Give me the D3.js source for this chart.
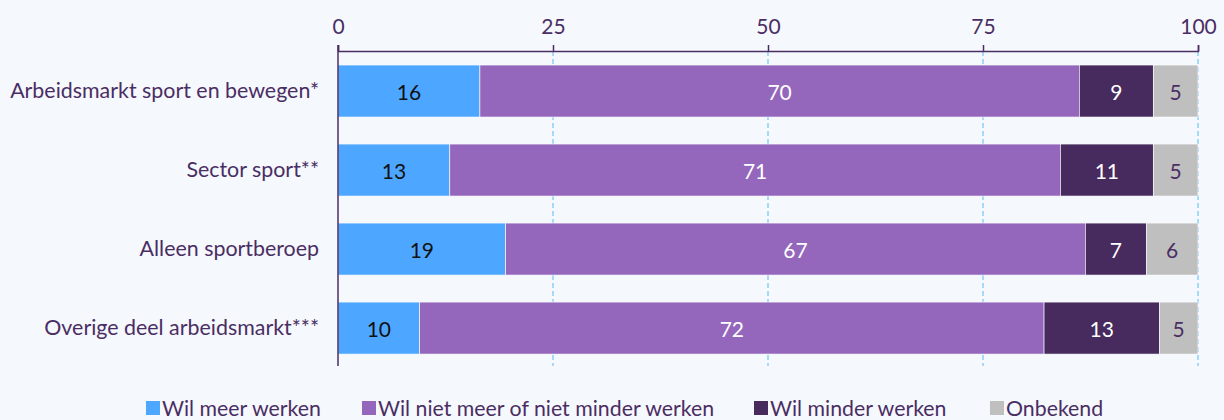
<!DOCTYPE html>
<html>
<head>
<meta charset="utf-8">
<script src="https://cdn.jsdelivr.net/npm/d3@7"></script>
<style>
  body { margin: 0; background: #f5f8fd; }
  text { font-family: Lato, sans-serif; }
</style>
</head>
<body>
<div id="chart"></div>
<script>
// Categorieën en reeksen
var categories = ["Arbeidsmarkt sport en bewegen*", "Sector sport**", "Alleen sportberoep", "Overige deel arbeidsmarkt***"]
var series = ["Wil meer werken", "Wil niet meer of niet minder werken", "Wil minder werken", "Onbekend"]
var meerWerken = [16.5, 13.0, 19.5, 9.5]
var nietMeerMinder = [69.7, 71.0, 67.4, 72.6]
var minderWerken = [8.6, 10.8, 7.1, 13.4]
var onbekend = [5.2, 5.2, 6.0, 4.5]
var labels = [[16, 70, 9, 5], [13, 71, 11, 5], [19, 67, 7, 6], [10, 72, 13, 5]]
var ticks = [0, 25, 50, 75, 100]

var width = 1224
var height = 420
var margin = {top: 51, right: 26, bottom: 55, left: 338}

var colors = ["#4da6ff", "#9467bd", "#472a5e", "#bfbfbf"]
var labelColors = ["#111111", "#ffffff", "#ffffff", "#4a2e63"]
var textColor = "#4a2e63"

var rows = categories.map(function(c, i) {
  return {cat: c, 0: meerWerken[i], 1: nietMeerMinder[i], 2: minderWerken[i], 3: onbekend[i], idx: i}
})
var stacked = d3.stack().keys([0, 1, 2, 3])(rows)

const svg = d3.select("#chart")
  .append("svg")
    .attr("width", width)
    .attr("height", height)

const x = d3.scaleLinear()
  .domain([0, 100])
  .range([margin.left, width - margin.right])

const y = d3.scaleBand()
  .domain(categories)
  .range([51.6, 367.5])
  .paddingInner(0.342)
  .paddingOuter(0.17)

// Rasterlijnen
svg.append("g")
  .selectAll("line")
  .data(ticks.slice(1))
  .join("line")
    .attr("x1", d => x(d))
    .attr("x2", d => x(d))
    .attr("y1", margin.top)
    .attr("y2", 366)
    .attr("stroke", "#74c5fa")
    .attr("stroke-width", 1.2)
    .attr("stroke-dasharray", "5,3")

// Balken
var groups = svg.append("g")
  .selectAll("g")
  .data(stacked)
  .join("g")
    .attr("fill", (d, i) => colors[i])

groups.selectAll("rect")
  .data(d => d)
  .join("rect")
    .attr("x", d => x(d[0]))
    .attr("y", d => y(d.data.cat))
    .attr("width", d => x(d[1]) - x(d[0]))
    .attr("height", y.bandwidth())
    .attr("stroke", "#ffffff")
    .attr("stroke-width", 0.6)

// Waardelabels
groups.each(function(s, si) {
  d3.select(this).selectAll("text")
    .data(s)
    .join("text")
      .attr("x", d => (x(d[0]) + x(d[1])) / 2)
      .attr("y", d => y(d.data.cat) + y.bandwidth() / 2)
      .attr("text-anchor", "middle")
      .attr("dominant-baseline", "central")
      .attr("fill", labelColors[si])
      .style("font-size", "21px")
      .text(d => labels[d.data.idx][si])
})

// X-as bovenaan
const xAxis = svg.append("g")
  .attr("transform", "translate(0," + margin.top + ")")
  .call(d3.axisTop(x).tickValues(ticks).tickSize(6).tickPadding(11))
xAxis.select(".domain").attr("stroke", textColor).attr("stroke-width", 1.5)
xAxis.selectAll(".tick line").attr("stroke", textColor).attr("stroke-width", 1.5)
xAxis.selectAll("text").attr("fill", textColor).style("font-size", "21px").style("font-family", "Lato, sans-serif")

// Y-as
const yAxis = svg.append("g")
  .attr("transform", "translate(" + margin.left + ",0)")
  .call(d3.axisLeft(y).tickSize(0).tickPadding(19))
yAxis.select(".domain").remove()
yAxis.selectAll("text").attr("fill", textColor).style("font-size", "21.4px").style("font-family", "Lato, sans-serif")

svg.append("line")
  .attr("x1", margin.left)
  .attr("x2", margin.left)
  .attr("y1", margin.top - 6)
  .attr("y2", 366)
  .attr("stroke", textColor)
  .attr("stroke-width", 1.5)

// Legenda
var legendX = [146, 362, 754, 990]
var legend = svg.append("g")
  .selectAll("g")
  .data(series)
  .join("g")
    .attr("transform", (d, i) => "translate(" + legendX[i] + ",408)")

legend.append("rect")
  .attr("x", 0)
  .attr("y", -7)
  .attr("width", 14)
  .attr("height", 14)
  .attr("fill", (d, i) => colors[i])

legend.append("text")
  .attr("x", 16)
  .attr("y", 0)
  .attr("dominant-baseline", "central")
  .attr("fill", textColor)
  .style("font-size", "21.3px")
  .text(d => d)
</script>
</body>
</html>
